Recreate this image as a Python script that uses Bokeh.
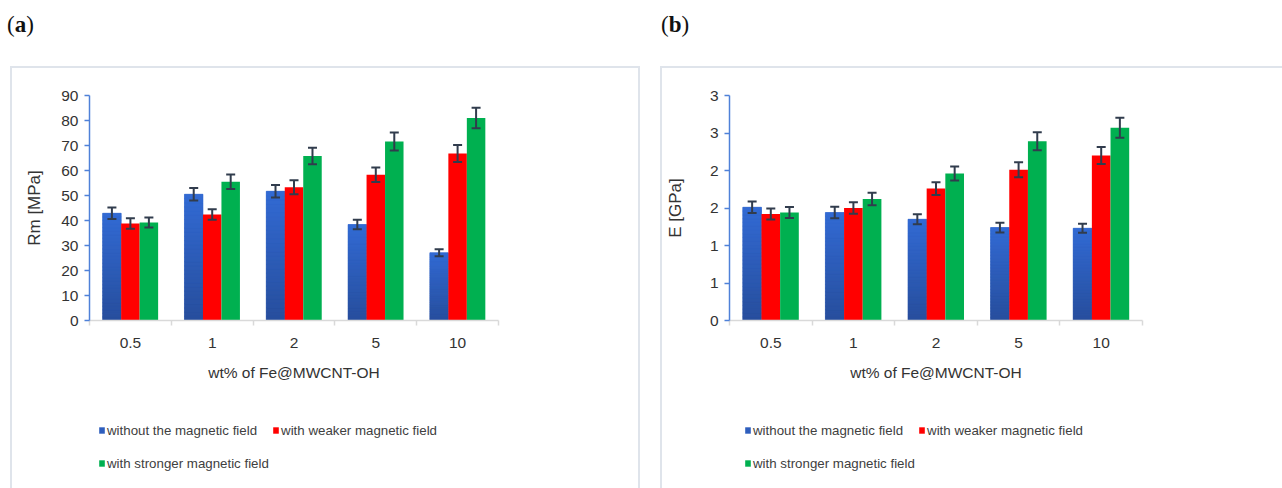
import numpy as np
from bokeh.plotting import figure
from bokeh.models import (ColumnDataSource, Whisker, TeeHead, FixedTicker, Legend,
                          LegendItem, Div, Spacer, Range1d)
from bokeh.layouts import row, column
from bokeh.embed import file_html
from bokeh.resources import INLINE

# ---------------- data ----------------
categories = ["0.5", "1", "2", "5", "10"]
series_names = ["without the magnetic field", "with weaker magnetic field",
                "with stronger magnetic field"]

rm_without = [42.9, 50.5, 51.7, 38.4, 27.1]
rm_weaker = [38.8, 42.4, 53.3, 58.3, 66.8]
rm_stronger = [39.2, 55.5, 65.8, 71.6, 81.0]
rm_without_err = [2.3, 2.5, 2.5, 1.9, 1.4]
rm_weaker_err = [2.1, 2.1, 2.8, 2.9, 3.4]
rm_stronger_err = [2.0, 2.9, 3.3, 3.6, 4.1]
rm_ticks = [0, 10, 20, 30, 40, 50, 60, 70, 80, 90]
rm_tick_labels = ["0", "10", "20", "30", "40", "50", "60", "70", "80", "90"]

e_without = [1.51, 1.44, 1.35, 1.24, 1.23]
e_weaker = [1.42, 1.50, 1.76, 2.01, 2.20]
e_stronger = [1.44, 1.62, 1.96, 2.39, 2.57]
e_without_err = [0.076, 0.076, 0.067, 0.065, 0.060]
e_weaker_err = [0.074, 0.076, 0.085, 0.099, 0.112]
e_stronger_err = [0.072, 0.083, 0.094, 0.119, 0.132]
e_ticks = [0, 0.5, 1, 1.5, 2, 2.5, 3]
e_tick_labels = ["0", "1", "1", "2", "2", "3", "3"]

# ---------------- style ----------------
BLUE_BOTTOM = np.array([0x27, 0x4E, 0x9C])
BLUE_TOP = np.array([0x32, 0x6A, 0xD4])
BLUE = "#2E5EBD"
RED = "#FF0000"
GREEN = "#00B050"
ERR = "#313C4D"
FONT = "Liberation Sans"
TXT = "#333333"
BAR_W = 0.226
BOX = "2px solid #DFE4EB"
MAIN_H = 330
LEG_H = 92


def hexcol(c):
    return "#%02x%02x%02x" % tuple(int(round(v)) for v in c)


def make_panel(without, weaker, stronger, e1, e2, e3, ymax, ticks, tick_labels,
               ylabel, ylabel_standoff, border_left, frame_w, width, legend_x):
    p = figure(width=width, height=MAIN_H, x_range=Range1d(0.5, 5.5),
               y_range=Range1d(0, ymax), toolbar_location=None,
               output_backend="svg", min_border_left=border_left, min_border_top=27,
               min_border_bottom=MAIN_H - 2 - 27 - 223,
               min_border_right=width - border_left - frame_w)
    p.outline_line_color = None
    p.xgrid.visible = False
    p.ygrid.visible = False

    xs = np.arange(1, len(categories) + 1, dtype=float)
    offsets = [-BAR_W, 0.0, BAR_W]

    # blue bars: solid base + gradient slices
    p.vbar(x=xs + offsets[0], top=without, width=BAR_W, fill_color=BLUE, line_color=None)
    n = 30
    sx, sb, st, sc = [], [], [], []
    for xi, v in zip(xs + offsets[0], without):
        for k in range(n):
            f = (k + 0.5) / n
            sx.append(xi)
            sb.append(v * k / n)
            st.append(v * (k + 1) / n)
            sc.append(hexcol(BLUE_BOTTOM + (BLUE_TOP - BLUE_BOTTOM) * f))
    p.vbar(x=sx, bottom=sb, top=st, width=BAR_W, fill_color=sc, line_color=sc,
           line_width=0.6)
    p.vbar(x=xs + offsets[1], top=weaker, width=BAR_W, fill_color=RED, line_color=None)
    p.vbar(x=xs + offsets[2], top=stronger, width=BAR_W, fill_color=GREEN, line_color=None)

    for off, vals, errs in zip(offsets, [without, weaker, stronger], [e1, e2, e3]):
        vals = np.array(vals)
        errs = np.array(errs)
        src = ColumnDataSource(dict(x=xs + off, upper=vals + errs, lower=vals - errs))
        w = Whisker(base="x", upper="upper", lower="lower", source=src,
                    line_color=ERR, line_width=2, level="overlay",
                    upper_head=TeeHead(size=9, line_color=ERR, line_width=2),
                    lower_head=TeeHead(size=9, line_color=ERR, line_width=2))
        p.add_layout(w)

    xa = p.xaxis[0]
    xa.ticker = FixedTicker(ticks=list(xs), minor_ticks=list(xs - 0.5) + [xs[-1] + 0.5])
    xa.major_label_overrides = {float(x): c for x, c in zip(xs, categories)}
    xa.major_tick_line_color = None
    xa.major_tick_out = 5
    xa.minor_tick_line_color = "#D9D9D9"
    xa.minor_tick_out = 5
    xa.minor_tick_in = 0
    xa.minor_tick_line_width = 1.5
    xa.axis_line_color = "#D9D9D9"
    xa.axis_line_width = 1.5
    xa.major_label_standoff = 12
    xa.major_label_text_font = FONT
    xa.major_label_text_font_size = "15.5px"
    xa.major_label_text_color = TXT
    xa.axis_label = "wt% of Fe@MWCNT-OH"
    xa.axis_label_text_font = FONT
    xa.axis_label_text_font_size = "15.5px"
    xa.axis_label_text_font_style = "normal"
    xa.axis_label_text_color = TXT
    xa.axis_label_standoff = 13

    ya = p.yaxis[0]
    ya.ticker = FixedTicker(ticks=ticks, minor_ticks=[])
    ya.major_label_overrides = {float(t): l for t, l in zip(ticks, tick_labels)}
    ya.axis_line_color = "#4F81D8"
    ya.axis_line_width = 1.5
    ya.major_tick_line_color = "#4F81D8"
    ya.major_tick_line_width = 1.5
    ya.major_tick_out = 5
    ya.major_tick_in = 0
    ya.major_label_standoff = 6
    ya.major_label_text_font = FONT
    ya.major_label_text_font_size = "15.5px"
    ya.major_label_text_color = TXT
    ya.axis_label = ylabel
    ya.axis_label_text_font = FONT
    ya.axis_label_text_font_size = "17px"
    ya.axis_label_text_font_style = "normal"
    ya.axis_label_text_color = TXT
    ya.axis_label_standoff = ylabel_standoff

    # legend strip (separate small figure inside the same box; frame aligned with main)
    lf = figure(width=width, height=LEG_H, x_range=Range1d(0.5, 5.5),
                y_range=Range1d(0, ymax), toolbar_location=None,
                output_backend="svg", x_axis_location=None, y_axis_location=None,
                min_border=0)
    lf.outline_line_color = None
    lf.xgrid.visible = False
    lf.ygrid.visible = False
    # hidden proxies of the three series, used only for the legend swatches
    lb = lf.vbar(x=xs + offsets[0], top=without, width=BAR_W, fill_color=BLUE, line_color=None)
    lr = lf.vbar(x=xs + offsets[1], top=weaker, width=BAR_W, fill_color=RED, line_color=None)
    lg = lf.vbar(x=xs + offsets[2], top=stronger, width=BAR_W, fill_color=GREEN, line_color=None)
    for r in (lb, lr, lg):
        r.visible = False
    common = dict(orientation="horizontal", glyph_width=7, glyph_height=8,
                  label_standoff=2, spacing=15, padding=0, margin=0,
                  border_line_color=None, background_fill_alpha=0,
                  label_text_font=FONT, label_text_font_size="13.3px",
                  label_height=16, label_text_color="#404040",
                  label_text_baseline="middle")
    leg1 = Legend(items=[LegendItem(label=series_names[0], renderers=[lb]),
                         LegendItem(label=series_names[1], renderers=[lr])],
                  location=(legend_x, 50), **common)
    leg2 = Legend(items=[LegendItem(label=series_names[2], renderers=[lg])],
                  location=(legend_x, 17), **common)
    lf.add_layout(leg1)
    lf.add_layout(leg2)
    return p, lf


pa, la = make_panel(rm_without, rm_weaker, rm_stronger, rm_without_err, rm_weaker_err,
                    rm_stronger_err, 90, rm_ticks, rm_tick_labels, "Rm [MPa]", 14,
                    77, 409, 630, 9)
pa.styles = {"border-top": BOX, "border-left": BOX, "border-right": BOX}
la.styles = {"border-left": BOX, "border-right": BOX}
pb, lb_ = make_panel(e_without, e_weaker, e_stronger, e_without_err, e_weaker_err,
                     e_stronger_err, 3, e_ticks, e_tick_labels, "E [GPa]", 22,
                     67, 413, 622, 15)
pb.styles = {"border-top": BOX, "border-left": BOX}
lb_.styles = {"border-left": BOX}

lab = ('<div style="font-family:\'Liberation Serif\';font-size:23px;color:#111;'
       'margin-top:9px;margin-left:%dpx">(<b>%s</b>)</div>')
div_a = Div(text=lab % (7, "a"), width=660, height=66, margin=0)
div_b = Div(text=lab % (1, "b"), width=622, height=66, margin=0)

layout = column(row(div_a, div_b, spacing=0),
                row(Spacer(width=10, height=MAIN_H), column(pa, la, spacing=0),
                    Spacer(width=20, height=MAIN_H), column(pb, lb_, spacing=0),
                    spacing=0),
                spacing=0)

open("out.html", "w").write(file_html(layout, INLINE))
